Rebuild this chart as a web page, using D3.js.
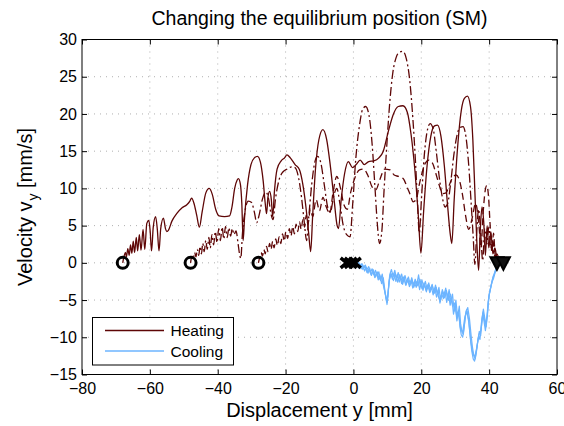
<!DOCTYPE html>
<html>
<head>
<meta charset="utf-8">
<script src="https://cdn.jsdelivr.net/npm/d3@7"></script>
<style>
  body { margin: 0; background: #fff; }
  text { font-family: "Liberation Sans", Arial, sans-serif; fill: #000; }
</style>
</head>
<body>
<div id="chart"></div>
<script>
// data: [displacement mm, velocity mm/s]
var xTicks = [-80, -60, -40, -20, 0, 20, 40, 60];
var yTicks = [-15, -10, -5, 0, 5, 10, 15, 20, 25, 30];

var heatSolid = [
  [-68,0],[-67.6,0.9],[-67.2,1.4],[-66.9,0.8],[-66.5,1.9],[-66.1,1.0],[-65.7,2.4],[-65.3,1.3],[-64.9,2.9],[-64.5,1.4],
  [-64.0,3.4],[-63.6,1.6],[-63.1,3.8],[-62.6,1.7],[-62.0,4.5],[-61.5,1.8],[-60.9,5.3],[-60.3,5.7],[-59.9,4.2],[-59.5,1.6],
  [-59.0,4.8],[-58.3,6.2],[-57.8,4.5],[-57.3,1.6],[-56.8,4.6],[-56.0,6.0],[-55.4,4.6],[-55.0,4.2],[-54.5,4.4],[-53.5,5.6],
  [-52.1,6.6],[-50.5,7.4],[-49.1,7.8],[-48.2,8.3],[-47.7,8.7],[-47.0,8.0],[-46.2,6.4],[-45.4,4.8],[-44.6,6.8],[-43.5,9.4],
  [-42.5,10.0],[-41.6,9.2],[-40.6,7.2],[-39.6,6.3],[-38,6.2],[-36.5,6.3],[-35.8,7.5],[-35.0,10.0],[-34.3,11.1],[-33.9,11.3],
  [-33.3,10.5],[-32.9,8.0],[-32.5,3.0],[-32.1,6.0],[-31.2,10.5],[-30.2,13.2],[-29.2,14.1],[-28.3,14.3],[-27.4,13.5],[-26.6,11.0],
  [-26.0,8.0],[-25.6,6.6],[-25.2,8.8],[-24.7,9.6],[-24.2,8.5],[-23.8,6.2],[-23.3,9.5],[-22.5,12.6],[-21.3,13.7],[-20.3,14.1],
  [-19.6,14.5],[-18.6,14.1],[-17.2,13.2],[-15.9,12.5],[-14.9,10.5],[-14.0,7.5],[-13.2,4.0],[-12.6,1.5],[-12.0,6.5],[-11.2,12.5],
  [-10.2,16.5],[-9.0,17.9],[-7.9,16.6],[-6.8,13.0],[-5.7,8.5],[-4.8,5.0],[-4.4,4.6],[-3.6,8.5],[-2.6,12.0],[-1.5,13.6],
  [-0.3,12.8],[0.8,13.2],[2.0,13.8],[3.2,13.2],[4.5,13.6],[6.0,13.7],[7.5,14.1],[8.8,15.0],[10.2,17.5],[11.8,20.0],
  [13.2,21.0],[14.6,21.1],[15.9,20.2],[17.0,17.2],[18.1,12.5],[19.1,6.5],[19.9,1.3],[20.7,7.0],[21.7,13.0],[22.8,17.0],
  [23.9,18.4],[24.8,18.5],[25.8,17.0],[26.8,13.0],[27.7,8.0],[28.5,4.0],[29.0,2.6],[29.7,8.5],[30.7,15.5],[31.8,20.5],
  [32.7,22.1],[33.6,22.4],[34.5,21.0],[35.2,16.5],[35.8,9.5],[36.4,2.5],[36.9,-1.0],[37.4,4.5],[37.9,7.5],[38.4,5.5],
  [38.9,1.0],[39.4,5.0],[39.9,2.0],[40.5,4.2],[41.1,1.2],[41.7,2.0],[42.3,0.5],[43.0,0]
];

var heatDashDot = [
  [-48,0],[-47.6,0.9],[-47.2,0.5],[-46.8,1.4],[-46.4,0.8],[-46.0,1.8],[-45.6,1.0],[-45.2,2.2],[-44.8,1.2],[-44.4,2.6],
  [-44.0,1.5],[-43.5,3.0],[-43.1,1.8],[-42.6,3.4],[-42.2,2.0],[-41.7,3.8],[-41.2,2.4],[-40.7,4.2],[-40.2,2.7],[-39.7,4.6],
  [-39.2,3.0],[-38.7,4.8],[-38.2,3.2],[-37.7,4.9],[-37.2,3.4],[-36.7,4.7],[-36.2,3.6],[-35.7,4.6],[-35.2,3.8],[-34.6,4.3],
  [-34.0,2.6],[-33.5,1.0],[-33.2,0.6],[-32.7,4.0],[-32.0,6.8],[-31.0,8.3],[-30.0,8.1],[-29.2,6.8],[-28.5,5.4],[-27.8,6.4],
  [-26.8,8.6],[-25.8,9.5],[-25.0,8.6],[-24.3,6.6],[-23.7,5.8],[-23.0,8.5],[-22.0,11.0],[-20.8,12.2],[-19.5,12.6],[-18.2,12.9],
  [-17.2,12.8],[-16.2,11.5],[-15.3,8.8],[-14.5,5.5],[-13.8,3.0],[-13.2,6.0],[-12.3,10.5],[-11.4,13.5],[-10.6,14.3],[-9.6,13.4],
  [-8.6,10.5],[-7.6,7.5],[-6.8,6.8],[-5.8,9.0],[-4.9,10.0],[-4.0,8.0],[-3.0,5.0],[-2.0,3.8],[-1.0,3.5],[-0.2,8.0],
  [0.7,14.0],[1.8,18.5],[2.7,20.6],[3.6,21.0],[4.6,19.8],[5.5,16.0],[6.3,10.5],[7.0,5.5],[7.7,2.6],[8.4,4.4],
  [9.0,9.5],[9.8,15.5],[10.7,21.5],[11.6,25.5],[12.6,27.6],[13.6,28.3],[14.6,28.4],[15.6,27.4],[16.6,24.5],[17.5,19.5],
  [18.3,13.5],[18.9,8.0],[19.4,4.0],[20.1,9.0],[20.9,14.5],[21.7,17.6],[22.6,18.7],[23.5,18.0],[24.4,15.0],[25.3,11.5],
  [26.2,8.8],[27.0,7.5],[27.8,8.0],[28.6,10.5],[29.6,14.5],[30.6,17.3],[31.5,18.2],[32.3,18.3],[33.2,16.8],[34.0,13.0],
  [34.7,8.0],[35.3,3.5],[35.8,-0.2],[36.3,3.8],[36.9,7.2],[37.5,4.0],[38.1,0.3],[38.7,4.6],[39.3,2.5],[39.9,4.8],
  [40.5,2.0],[41.1,3.0],[41.7,0.8],[42.3,1.2],[43.0,0]
];

var heatDashed = [
  [-28,0],[-27.6,0.8],[-27.2,1.4],[-26.8,0.9],[-26.4,1.8],[-26.0,1.2],[-25.6,2.2],[-25.2,1.5],[-24.7,2.6],[-24.3,1.8],
  [-23.8,2.9],[-23.4,2.0],[-22.9,3.2],[-22.4,2.3],[-21.9,3.5],[-21.4,2.6],[-20.9,3.9],[-20.4,2.9],[-19.9,4.2],[-19.4,3.3],
  [-18.9,4.6],[-18.4,3.6],[-17.9,4.9],[-17.4,3.9],[-16.9,5.2],[-16.4,4.2],[-15.9,5.5],[-15.4,4.5],[-14.9,5.8],[-14.4,4.8],
  [-13.9,6.4],[-13.4,5.2],[-12.7,7.2],[-12.0,6.2],[-11.0,8.5],[-10.0,7.0],[-9.0,8.8],[-8.0,7.5],[-7.0,6.6],[-6.0,9.5],
  [-4.9,11.6],[-3.8,10.0],[-2.8,7.8],[-1.8,7.2],[-0.8,9.5],[0.5,11.5],[1.8,12.5],[3.0,12.6],[4.2,11.8],[5.5,10.2],
  [6.6,9.8],[7.8,11.2],[9.2,12.6],[10.8,12.5],[12.0,11.8],[13.3,11.6],[14.7,11.3],[15.8,10.2],[16.7,9.2],[17.6,8.2],
  [18.5,8.5],[19.4,10.5],[20.3,12.2],[21.2,13.4],[22.2,13.8],[23.3,13.4],[24.3,12.0],[25.3,10.4],[26.3,9.3],[27.3,9.4],
  [28.3,10.5],[29.3,11.5],[30.3,11.8],[31.3,11.0],[32.2,9.0],[33.0,6.5],[34.0,4.5],[35.0,6.0],[36.0,8.0],[37.0,5.0],
  [37.6,2.0],[38.2,6.5],[38.8,9.6],[39.3,10.4],[39.8,9.0],[40.3,5.0],[40.8,1.5],[41.3,4.0],[41.8,1.0],[42.4,0.8],[43,0]
];

var coolA = [
  [0.5,0],[1,-0.2],[1.5,0.1],[2,-0.4],[2.5,-0.1],[3,-0.7],[3.5,-0.3],[4,-0.9],[4.5,-0.5],[5,-1.3],
  [5.5,-0.8],[6,-1.6],[6.5,-1.0],[7,-1.8],[7.5,-1.2],[8,-2.4],[8.5,-1.5],[9,-3.2],[9.5,-4.5],[9.9,-5.6],
  [10.3,-3.5],[10.7,-1.6],[11.2,-0.9],[11.7,-1.8],[12.2,-1.0],[12.7,-2.1],[13.2,-1.3],[13.7,-2.2],[14.2,-1.5],[14.7,-2.5],
  [15.2,-1.7],[15.7,-2.6],[16.2,-1.9],[16.7,-2.8],[17.2,-2.0],[17.7,-3.0],[18.2,-2.2],[18.7,-2.9],[19.2,-1.6],[19.7,-3.2],
  [20.2,-2.3],[20.7,-3.3],[21.2,-2.5],[21.7,-3.5],[22.2,-2.7],[22.7,-3.6],[23.2,-2.9],[23.7,-3.9],[24.2,-3.0],[24.7,-4.2],
  [25.2,-3.3],[25.7,-5.0],[26.2,-3.6],[26.7,-4.3],[27.2,-3.4],[27.7,-4.8],[28.2,-3.6],[28.7,-5.2],[29.2,-4.2],[29.7,-6.5],
  [30.2,-5.0],[30.7,-7.3],[31.2,-5.8],[31.6,-8.2],[32.0,-9.3],[32.4,-9.6],[32.8,-8.0],[33.2,-6.5],[33.7,-6.0],[34.2,-7.5],
  [34.7,-9.8],[35.1,-11.4],[35.5,-12.5],[35.9,-12.9],[36.3,-11.8],[36.7,-10.4],[37.1,-9.2],[37.5,-9.8],[37.9,-7.6],[38.3,-6.2],
  [38.7,-7.4],[39.1,-8.6],[39.5,-7.0],[39.9,-4.6],[40.3,-3.6],[40.7,-2.8],[41.1,-2.0],[41.5,-1.6],[41.9,-0.9],[42.3,-0.4],[42.8,0]
];

var coolB = [
  [0.8,0.1],[1.3,-0.5],[1.8,-0.1],[2.3,-0.8],[2.8,-0.3],[3.3,-1.1],[3.8,-0.6],[4.3,-1.4],[4.8,-0.7],[5.3,-1.7],
  [5.8,-1.1],[6.3,-2.0],[6.8,-1.3],[7.3,-2.3],[7.8,-1.6],[8.3,-2.8],[8.8,-2.0],[9.3,-3.8],[9.7,-5.0],[10.1,-4.6],
  [10.5,-2.6],[11.0,-1.4],[11.5,-2.2],[12.0,-1.4],[12.5,-2.5],[13.0,-1.7],[13.5,-2.6],[14.0,-1.9],[14.5,-2.9],[15.0,-2.1],
  [15.5,-3.0],[16.0,-2.3],[16.5,-3.2],[17.0,-2.4],[17.5,-3.4],[18.0,-2.6],[18.5,-3.3],[19.0,-2.3],[19.5,-3.6],[20.0,-2.7],
  [20.5,-3.7],[21.0,-2.9],[21.5,-3.9],[22.0,-3.1],[22.5,-4.0],[23.0,-3.3],[23.5,-4.3],[24.0,-3.4],[24.5,-4.6],[25.0,-3.8],
  [25.5,-5.4],[26.0,-4.1],[26.5,-4.8],[27.0,-3.9],[27.5,-5.3],[28.0,-4.1],[28.5,-5.7],[29.0,-4.7],[29.5,-6.9],[30.0,-5.6],
  [30.5,-7.8],[31.0,-6.4],[31.4,-8.6],[31.8,-9.7],[32.2,-10.0],[32.6,-8.7],[33.0,-7.1],[33.5,-6.5],[34.0,-8.0],[34.5,-10.3],
  [34.9,-11.9],[35.3,-12.9],[35.7,-13.2],[36.1,-12.3],[36.5,-10.9],[36.9,-9.8],[37.3,-10.3],[37.7,-8.2],[38.1,-6.8],[38.5,-7.9],
  [38.9,-9.1],[39.3,-7.6],[39.7,-5.2],[40.1,-4.1],[40.5,-3.3],[40.9,-2.5],[41.3,-2.1],[41.7,-1.4],[42.1,-0.9],[42.6,-0.3],[43.0,0]
];

var coolC = [
  [1.0,-0.1],[1.6,-0.7],[2.2,-0.2],[2.8,-0.9],[3.4,-0.4],[4.0,-1.3],[4.6,-0.8],[5.2,-1.6],[5.8,-0.9],[6.4,-1.9],
  [7.0,-1.2],[7.6,-2.2],[8.2,-1.8],[8.8,-3.0],[9.4,-4.2],[10.0,-5.3],[10.6,-2.2],[11.2,-1.5],[11.8,-2.4],[12.4,-1.5],
  [13.0,-2.6],[13.6,-1.6],[14.2,-2.8],[14.8,-1.9],[15.4,-3.0],[16.0,-2.1],[16.6,-3.1],[17.2,-2.3],[17.8,-3.3],[18.4,-2.5],
  [19.0,-3.1],[19.6,-2.2],[20.2,-3.5],[20.8,-2.7],[21.4,-3.7],[22.0,-2.9],[22.6,-3.9],[23.2,-3.0],[23.8,-4.1],[24.4,-3.3],
  [25.0,-4.5],[25.6,-5.2],[26.2,-3.8],[26.8,-4.7],[27.4,-3.7],[28.0,-5.0],[28.6,-4.2],[29.2,-5.8],[29.8,-5.4],[30.4,-7.0],
  [31.0,-6.8],[31.6,-8.9],[32.2,-9.3],[32.8,-7.4],[33.4,-6.3],[34.0,-7.8],[34.6,-10.6],[35.2,-12.2],[35.8,-12.6],[36.4,-11.3],
  [37.0,-9.6],[37.6,-9.1],[38.2,-6.6],[38.8,-8.2],[39.4,-7.2],[40.0,-4.3],[40.6,-3.0],[41.2,-1.8],[41.8,-1.1],[42.4,-0.5]
];

var startPts = [[-68,0],[-48,0],[-28,0]];
var crossPts = [[-2,0],[-0.8,0],[0.4,0]];
var endPts = [[42.3,0],[44.2,0]];

var svgWidth = 564;
var svgHeight = 426;
var margin = { top: 39.5, right: 7, bottom: 51.5, left: 82 };
var width = svgWidth - margin.left - margin.right;
var height = svgHeight - margin.top - margin.bottom;

var heatColor = "#5e0606";
var coolColor = "#6cb4ff";
var fontStack = "'Liberation Sans', Arial, sans-serif";

var svg = d3.select("#chart")
  .append("svg")
  .attr("width", svgWidth)
  .attr("height", svgHeight);

var chartGroup = svg.append("g")
  .attr("transform", `translate(${margin.left}, ${margin.top})`);

var xScale = d3.scaleLinear().domain([-80, 60]).range([0, width]);
var yScale = d3.scaleLinear().domain([-15, 30]).range([height, 0]);

// dotted grid
chartGroup.append("g")
  .selectAll("line")
  .data(xTicks.slice(1, -1))
  .enter()
  .append("line")
  .attr("x1", d => xScale(d)).attr("x2", d => xScale(d))
  .attr("y1", 0).attr("y2", height)
  .attr("stroke", "#9a9a9a").attr("stroke-width", 0.8)
  .attr("stroke-dasharray", "1,5");

chartGroup.append("g")
  .selectAll("line")
  .data(yTicks.slice(1, -1))
  .enter()
  .append("line")
  .attr("x1", 0).attr("x2", width)
  .attr("y1", d => yScale(d)).attr("y2", d => yScale(d))
  .attr("stroke", "#9a9a9a").attr("stroke-width", 0.8)
  .attr("stroke-dasharray", "1,5");

// axes with inward ticks on all four sides
function styleAxis(g) {
  g.select(".domain").remove();
  g.selectAll(".tick line").attr("stroke", "#000");
  g.selectAll(".tick text")
    .style("font-family", fontStack)
    .style("font-size", "16px")
    .attr("fill", "#000");
}
var fmt = d => d < 0 ? "\u2212" + Math.abs(d) : String(d);

chartGroup.append("g")
  .attr("transform", `translate(0, ${height})`)
  .call(d3.axisBottom(xScale).tickValues(xTicks).tickFormat(fmt).tickSizeInner(-5).tickSizeOuter(0).tickPadding(8))
  .call(styleAxis);
chartGroup.append("g")
  .call(d3.axisTop(xScale).tickValues(xTicks).tickFormat("").tickSizeInner(-5).tickSizeOuter(0))
  .call(styleAxis);
chartGroup.append("g")
  .call(d3.axisLeft(yScale).tickValues(yTicks).tickFormat(fmt).tickSizeInner(-5).tickSizeOuter(0).tickPadding(5))
  .call(styleAxis);
chartGroup.append("g")
  .attr("transform", `translate(${width}, 0)`)
  .call(d3.axisRight(yScale).tickValues(yTicks).tickFormat("").tickSizeInner(-5).tickSizeOuter(0))
  .call(styleAxis);

chartGroup.append("rect")
  .attr("width", width).attr("height", height)
  .attr("fill", "none").attr("stroke", "#000").attr("stroke-width", 1);

var line = d3.line()
  .x(d => xScale(d[0]))
  .y(d => yScale(d[1]))
  .curve(d3.curveMonotoneX);

var roughLine = d3.line()
  .x(d => xScale(d[0]))
  .y(d => yScale(d[1]));

var heatSeries = [
  { data: heatSolid, dash: null },
  { data: heatDashDot, dash: "9,3,2,3" },
  { data: heatDashed, dash: "7,4" }
];
heatSeries.forEach(function(s) {
  chartGroup.append("path")
    .datum(s.data)
    .attr("d", line)
    .attr("fill", "none")
    .attr("stroke", heatColor)
    .attr("stroke-width", 1.3)
    .attr("stroke-dasharray", s.dash);
});

[coolA, coolB, coolC].forEach(function(c) {
  chartGroup.append("path")
    .datum(c)
    .attr("d", roughLine)
    .attr("fill", "none")
    .attr("stroke", coolColor)
    .attr("stroke-width", 1.2)
    .attr("stroke-linejoin", "round");
});

// markers
chartGroup.selectAll(".startMark")
  .data(startPts)
  .enter()
  .append("circle")
  .attr("cx", d => xScale(d[0]))
  .attr("cy", d => yScale(d[1]))
  .attr("r", 5.5)
  .attr("fill", "none")
  .attr("stroke", "#000")
  .attr("stroke-width", 3);

chartGroup.selectAll(".crossMark")
  .data(crossPts)
  .enter()
  .append("path")
  .attr("transform", d => `translate(${xScale(d[0])}, ${yScale(d[1])})`)
  .attr("d", "M-6,-5L6,5M-6,5L6,-5")
  .attr("stroke", "#000")
  .attr("stroke-width", 3.5);

chartGroup.selectAll(".endMark")
  .data(endPts)
  .enter()
  .append("path")
  .attr("transform", d => `translate(${xScale(d[0])}, ${yScale(d[1])})`)
  .attr("d", "M-6.5,-5.5L6.5,-5.5L0,7Z")
  .attr("fill", "#111")
  .attr("stroke", "#000")
  .attr("stroke-width", 2)
  .attr("stroke-linejoin", "miter");

// legend
var legend = svg.append("g").attr("transform", "translate(92.5, 317.5)");
legend.append("rect")
  .attr("width", 141).attr("height", 47.5)
  .attr("fill", "#fff").attr("stroke", "#000").attr("stroke-width", 1);
var legendItems = [["Heating", heatColor], ["Cooling", coolColor]];
legendItems.forEach(function(it, i) {
  legend.append("line")
    .attr("x1", 12.5).attr("x2", 71.5)
    .attr("y1", 13 + i * 20.5).attr("y2", 13 + i * 20.5)
    .attr("stroke", it[1]).attr("stroke-width", 1.3);
  legend.append("text")
    .attr("x", 78).attr("y", 18.5 + i * 20.5)
    .style("font-size", "15.5px")
    .text(it[0]);
});

// titles
svg.append("text")
  .attr("x", margin.left + width / 2).attr("y", 25)
  .attr("text-anchor", "middle")
  .style("font-size", "19.5px")
  .text("Changing the equilibrium position (SM)");

svg.append("text")
  .attr("x", margin.left + width / 2).attr("y", 417)
  .attr("text-anchor", "middle")
  .style("font-size", "20px")
  .text("Displacement y [mm]");

var yLabel = svg.append("text")
  .attr("transform", `translate(32, ${margin.top + height / 2}) rotate(-90)`)
  .attr("text-anchor", "middle")
  .style("font-size", "20px");
yLabel.append("tspan").text("Velocity v");
yLabel.append("tspan").attr("dy", 6).attr("dx", 1).style("font-size", "14px").text("y");
yLabel.append("tspan").attr("dy", -6).text(" [mm/s]");
</script>
</body>
</html>
